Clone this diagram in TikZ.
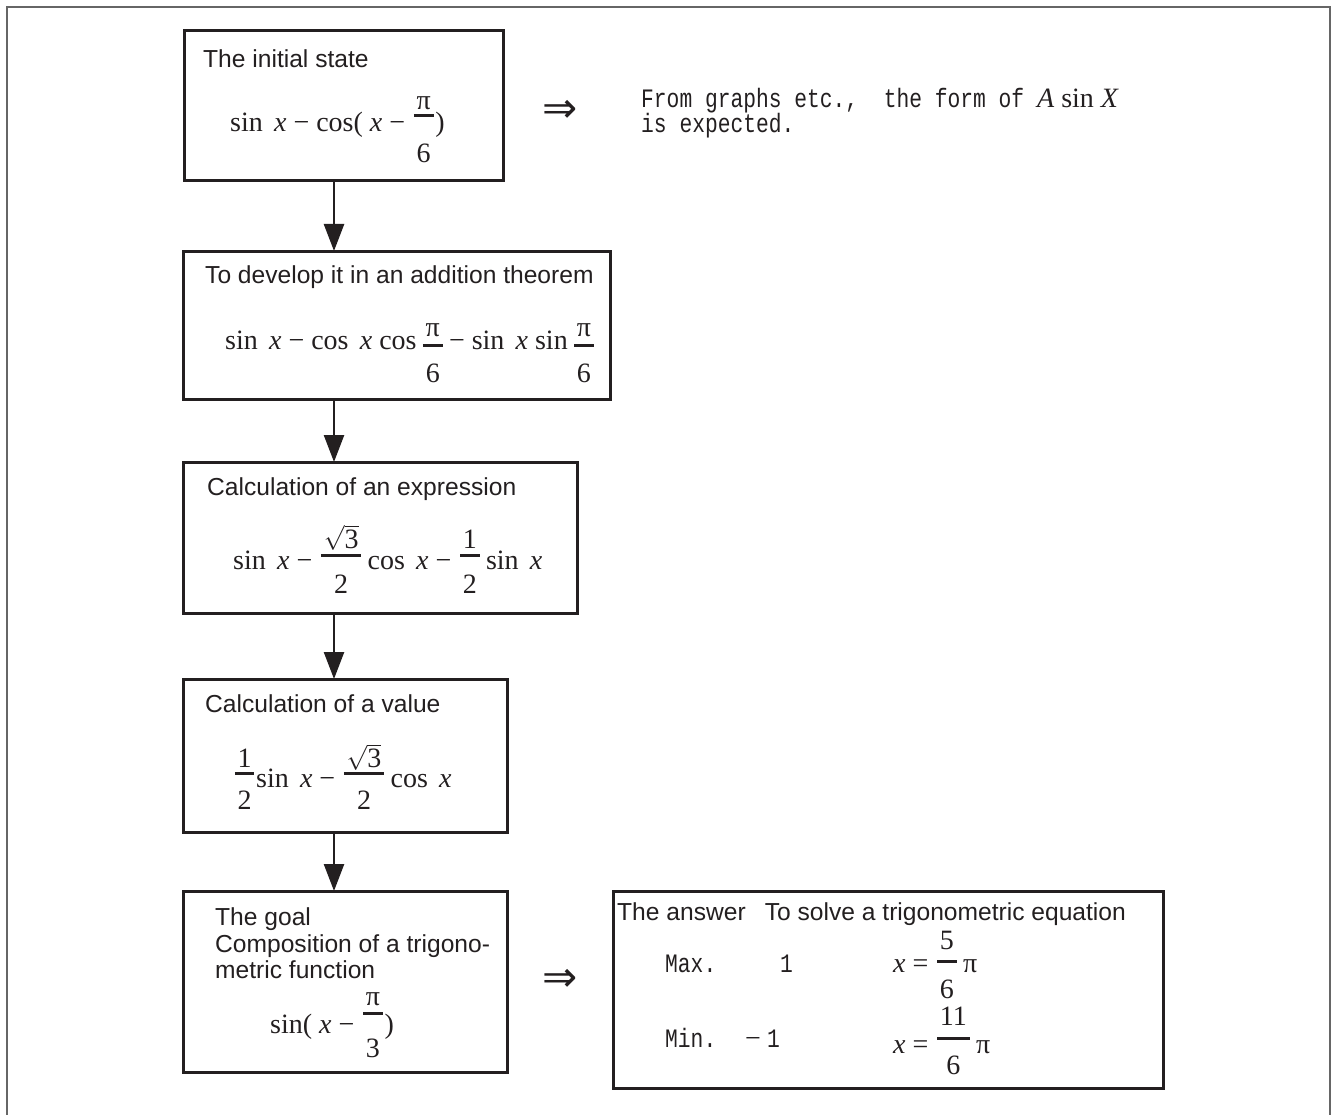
\documentclass[tikz,border=0pt]{standalone}
\usepackage{fontspec}
\setmainfont{Liberation Serif}
\setsansfont{Liberation Sans}
\newfontfamily\monof[FakeStretch=0.8]{Liberation Mono}
\newfontfamily\djv{DejaVu Sans}
\usetikzlibrary{arrows.meta}
\definecolor{ink}{HTML}{231F20}
\definecolor{frm}{HTML}{666666}
\newcommand{\frx}[5]{\hbox{\setbox0\hbox{#1}\setbox2\hbox{#2}%
 \dimen0=\wd0 \ifdim\wd2>\dimen0 \dimen0=\wd2 \fi
 \advance\dimen0 by 0.2em
 \kern0.06em
 \rlap{\raise#4em\hbox{\vrule width\dimen0 height 0.1em depth 0pt}}%
 \rlap{\hbox to\dimen0{\hss\raise#3em\box0\hss}}%
 \hbox to\dimen0{\hss\lower#5em\box2\hss}%
 \kern0.06em}}
\newcommand{\vx}{\textit{x}}
\newcommand{\gap}{\hspace{0.4em}}
\newcommand{\sqt}{$\sqrt{\mbox{3}}$}
\newcommand{\lab}{\sffamily\fontsize{24.6}{27}\selectfont}
\newcommand{\mth}{\rmfamily\fontsize{28}{32}\selectfont}
\newcommand{\mono}{\monof\fontsize{26.6}{30}\selectfont\frenchspacing}
\newcommand{\rarr}{\djv\fontsize{42}{42}\selectfont}
\newcommand{\twolines}[3]{\hbox{\rlap{#1}\lower#3pt\hbox{#2}}}
\begin{document}
\begin{tikzpicture}[x=1pt,y=-1pt,
  box/.style={draw=ink,line width=3pt,rectangle,anchor=north west,inner sep=0pt,outer sep=0pt},
  tx/.style={inner sep=0pt,anchor=base west,text=ink},
  imp/.style={inner sep=0pt,text=ink,font=\rarr},
  arr/.style={draw=ink,line width=2.5pt,-{Triangle[length=27pt,width=20pt]}},
  frame/.style={draw=frm,line width=2pt}]
\useasboundingbox (0,0) rectangle (1337,1115);
\draw[frame] (6.5,1116) -- (6.5,7) -- (1330,7) -- (1330,1116);
% boxes
\node[box,minimum width=319,minimum height=150] (b1) at (184,31) {};
\node[box,minimum width=427,minimum height=148] (b2) at (183,251) {};
\node[box,minimum width=394,minimum height=151] (b3) at (183,462) {};
\node[box,minimum width=324,minimum height=153] (b4) at (183,679) {};
\node[box,minimum width=324,minimum height=181] (b5) at (183,891) {};
\node[box,minimum width=550,minimum height=197] (b6) at (613,891) {};
\coordinate (ax) at (334,0);
\draw[arr] (b1.south -| ax) -- (b2.north -| ax);
\draw[arr] (b2.south -| ax) -- (b3.north -| ax);
\draw[arr] (b3.south -| ax) -- (b4.north -| ax);
\draw[arr] (b4.south -| ax) -- (b5.north -| ax);
% box 1
\node[tx,font=\lab] (t1) at (203,68) {The initial state};
\node[tx,font=\mth] (m1) at (230,132) {sin\gap\vx\ − cos(\ \vx\ − \frx{π}{6}{0.79}{0.54}{1.1})};
\node[imp] (r1) at (560,111) {⇒};
\node[tx,font=\mono] (n1) at (641,108) {\twolines{From graphs etc.,~~the form of~{\mth\textit{A} sin \textit{X}}}{is expected.}{25}};
% box 2
\node[tx,font=\lab] (t2) at (205,283) {To develop it in an addition theorem};
\node[tx,font=\mth] (m2) at (225,349) {sin\gap\vx\ − cos\gap\vx\ cos\,\frx{π}{6}{0.43}{0.07}{1.21}\,− sin\gap\vx\ sin\,\frx{π}{6}{0.43}{0.07}{1.21}};
% box 3
\node[tx,font=\lab] (t3) at (207,495) {Calculation of an expression};
\node[tx,font=\mth] (m3) at (233,569) {sin\gap\vx\ − \frx{\sqt}{2}{0.75}{0.43}{0.86}\,cos\gap\vx\ − \frx{1}{2}{0.75}{0.43}{0.86}\,sin\gap\vx};
% box 4
\node[tx,font=\lab] (t4) at (205,712) {Calculation of a value};
\node[tx,font=\mth] (m4) at (233,787) {\frx{1}{2}{0.7}{0.43}{0.82}sin\gap\vx\ − \frx{\sqt}{2}{0.7}{0.43}{0.82}\,cos\gap\vx};
% box 5
\node[tx,font=\lab] (g1) at (215,925) {The goal};
\node[tx,font=\lab] (g2) at (215,952) {Composition of a trigono-};
\node[tx,font=\lab] (g3) at (215,978) {metric function};
\node[tx,font=\mth] (m5) at (270,1033) {sin(\ \vx\ − \frx{π}{3}{1.0}{0.64}{0.86})};
\node[imp] (r2) at (560,980) {⇒};
% box 6
\node[tx,font=\lab] (a0) at (617,920) {The answer\hspace{0.5em} To solve a trigonometric equation};
\node[tx,font=\mono] (a1) at (665,972) {Max.};
\node[tx,font=\mono] (a2) at (780,972) {1};
\node[tx,font=\mono] (a4) at (665,1047) {Min.};
\node[tx,font=\mth] (a5) at (745,1047) {−\hspace{6pt}{\mono 1}};
\node[tx,font=\mth] (a3) at (893,972) {\twolines{\vx\ = \frx{5}{6}{0.79}{0.32}{0.93}\,π}{\vx\ = \frx{11}{6}{1.0}{0.48}{0.75}\,π}{81}};
\end{tikzpicture}
\end{document}
